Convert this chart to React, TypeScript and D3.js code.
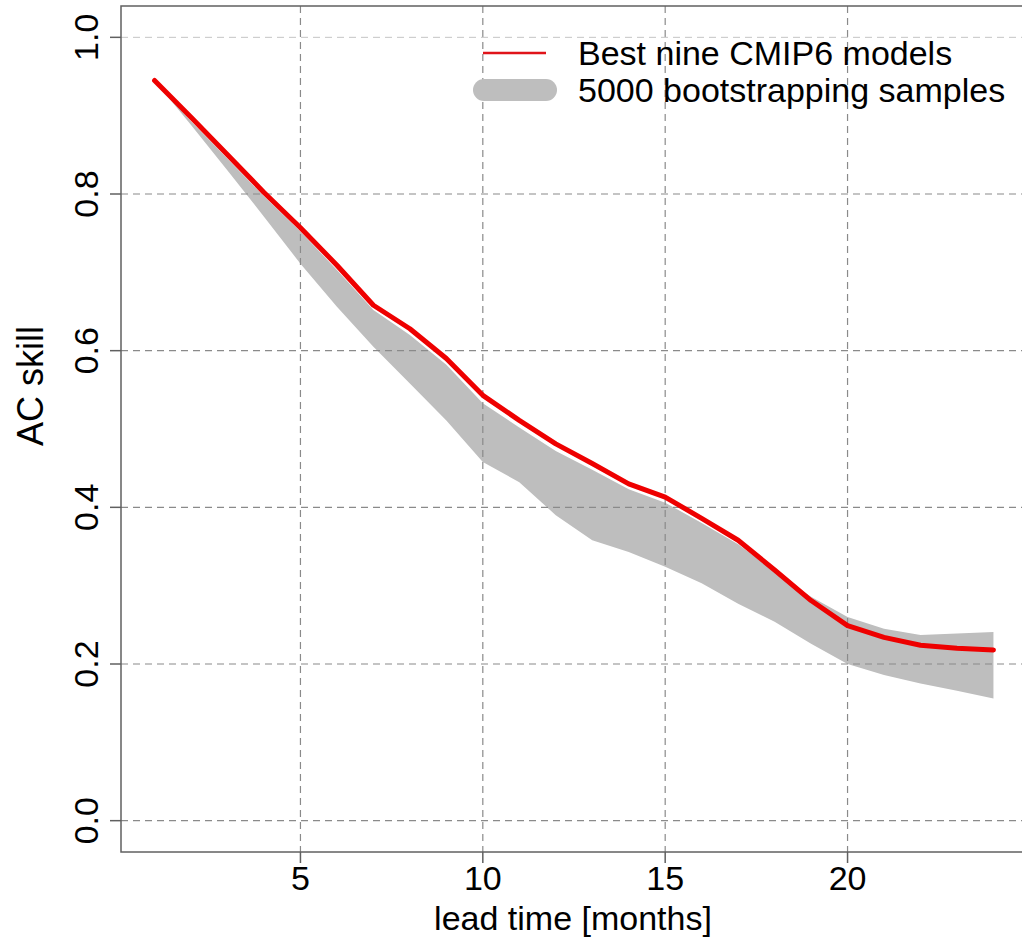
import React from 'react';
import * as d3 from 'd3';

const leadMonths = [1, 2, 3, 4, 5, 6, 7, 8, 9, 10, 11, 12, 13, 14, 15, 16, 17, 18, 19, 20, 21, 22, 23, 24];
const bestNine = [0.945, 0.898, 0.850, 0.802, 0.757, 0.709, 0.658, 0.628, 0.590, 0.543, 0.511, 0.481, 0.456, 0.430, 0.413, 0.386, 0.358, 0.320, 0.281, 0.249, 0.234, 0.224, 0.220, 0.218];
const bootUpper = [0.945, 0.893, 0.845, 0.797, 0.752, 0.703, 0.652, 0.620, 0.582, 0.533, 0.502, 0.472, 0.448, 0.423, 0.406, 0.380, 0.353, 0.318, 0.286, 0.260, 0.245, 0.237, 0.239, 0.241];
const bootLower = [0.945, 0.888, 0.830, 0.771, 0.711, 0.656, 0.605, 0.558, 0.511, 0.458, 0.432, 0.390, 0.358, 0.343, 0.324, 0.303, 0.277, 0.254, 0.226, 0.200, 0.186, 0.175, 0.166, 0.156];
const xTicks = [5, 10, 15, 20];
const yTicks = [0, 0.2, 0.4, 0.6, 0.8, 1.0];
const legendLabels = ['Best nine CMIP6 models', '5000 bootstrapping samples'];
const xLabel = 'lead time [months]';
const yLabel = 'AC skill';

const FONT = '"Liberation Sans", Arial, Helvetica, sans-serif';

export default function App() {
  const W = 1022;
  const H = 938;
  const left = 121;
  const right = 1027;
  const top = 6;
  const bottom = 852;

  const x = d3.scaleLinear().domain([0.08, 24.92]).range([left, right]);
  const y = d3.scaleLinear().domain([-0.04, 1.04]).range([bottom, top]);

  const area = d3
    .area<number>()
    .x((_, i) => x(leadMonths[i]))
    .y0((_, i) => y(bootLower[i]))
    .y1((_, i) => y(bootUpper[i]));
  const line = d3
    .line<number>()
    .x((_, i) => x(leadMonths[i]))
    .y((d) => y(d));

  const gridColor = '#8a8a8a';
  const axisColor = '#606060';

  return (
    <svg
      width={W}
      height={H}
      style={{ position: 'absolute', left: 0, top: 0, display: 'block', background: '#fff' }}
      fontFamily={FONT}
    >
      <rect x={0} y={0} width={W} height={H} fill="#fff" />
      {/* band */}
      <path d={area(bootLower) || ''} fill="#bebebe" stroke="none" />
      {/* grid */}
      {xTicks.map((t) => (
        <line
          key={'gx' + t}
          x1={x(t)}
          x2={x(t)}
          y1={top}
          y2={bottom}
          stroke={gridColor}
          strokeWidth={1.2}
          strokeDasharray="7,5"
        />
      ))}
      {yTicks.map((t) => (
        <line
          key={'gy' + t}
          x1={left}
          x2={right}
          y1={y(t)}
          y2={y(t)}
          stroke={t === 1 ? '#c4c4c4' : gridColor}
          strokeWidth={t === 1 ? 1 : 1.2}
          strokeDasharray="7,5"
        />
      ))}
      {/* red line */}
      <path
        d={line(bestNine) || ''}
        fill="none"
        stroke="#ee0000"
        strokeWidth={5}
        strokeLinecap="round"
        strokeLinejoin="round"
      />
      {/* box */}
      <rect x={left} y={top} width={right - left} height={bottom - top} fill="none" stroke={axisColor} strokeWidth={1.5} />
      {/* x ticks */}
      {xTicks.map((t) => (
        <g key={'xt' + t}>
          <line x1={x(t)} x2={x(t)} y1={bottom} y2={bottom + 11} stroke={axisColor} strokeWidth={1.5} />
          <text x={x(t)} y={890} textAnchor="middle" fontSize={34} fill="#000">
            {t}
          </text>
        </g>
      ))}
      {/* y ticks */}
      {yTicks.map((t) => (
        <g key={'yt' + t}>
          <line x1={left - 11} x2={left} y1={y(t)} y2={y(t)} stroke={axisColor} strokeWidth={1.5} />
          <text
            transform={`translate(98,${y(t)}) rotate(-90)`}
            textAnchor="middle"
            fontSize={34}
            fill="#000"
          >
            {t.toFixed(1)}
          </text>
        </g>
      ))}
      {/* axis labels */}
      <text x={573} y={930} textAnchor="middle" fontSize={34} fill="#000">
        {xLabel}
      </text>
      <text transform="translate(43,386) rotate(-90)" textAnchor="middle" fontSize={36} fill="#000">
        {yLabel}
      </text>
      {/* legend */}
      <line x1={483} x2={546} y1={53} y2={53} stroke="#e0141a" strokeWidth={2.5} />
      <text x={578} y={65} fontSize={34} fill="#000">
        {legendLabels[0]}
      </text>
      <line x1={484} x2={546} y1={90} y2={90} stroke="#bebebe" strokeWidth={22} strokeLinecap="round" />
      <text x={578} y={102} fontSize={34} fill="#000">
        {legendLabels[1]}
      </text>
    </svg>
  );
}
